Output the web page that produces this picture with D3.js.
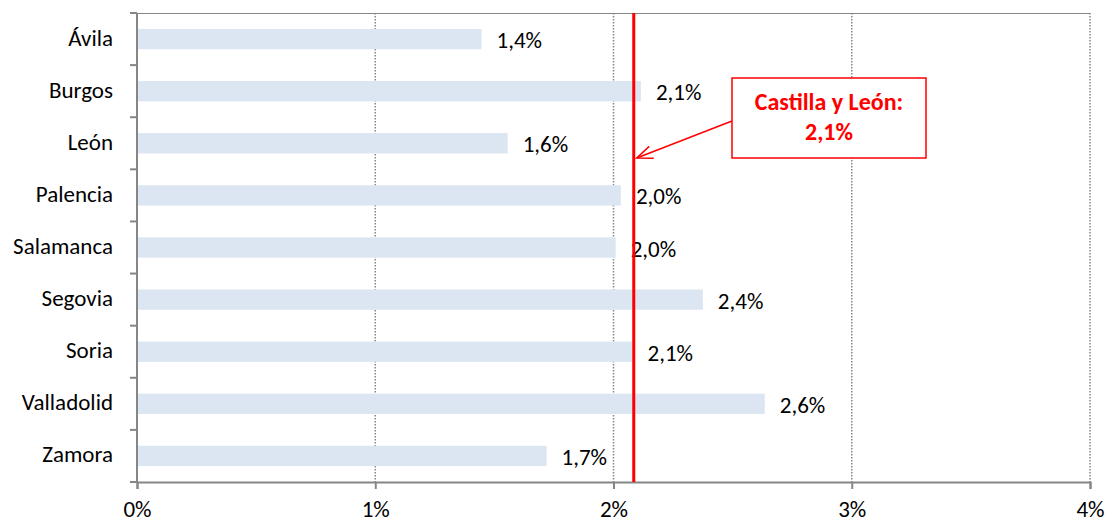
<!DOCTYPE html>
<html>
<head>
<meta charset="utf-8">
<script src="https://cdn.jsdelivr.net/npm/d3@7"></script>
<style>
body { margin: 0; background: #fff; }
text { font-family: Carlito, Calibri, Lato, sans-serif; }
</style>
</head>
<body>
<script>
// data
let provincias = ['Ávila', 'Burgos', 'León', 'Palencia', 'Salamanca', 'Segovia', 'Soria', 'Valladolid', 'Zamora'];
let valores = [1.446, 2.115, 1.556, 2.031, 2.009, 2.375, 2.08, 2.635, 1.719];
let etiquetas = ['1,4%', '2,1%', '1,6%', '2,0%', '2,0%', '2,4%', '2,1%', '2,6%', '1,7%'];
let xTicks = [0, 1, 2, 3, 4];
let mediaCyL = 2.085;
let calloutLines = ['Castilla y León:', '2,1%'];

const W = 1108, H = 523;
const margin = {top: 13, right: 18, bottom: 41, left: 137};
const AXIS = '#868686';
const BAR = '#dce6f2';
const RED = '#ff0000';
const FS = 23;

let svg = d3.select('body').append('svg')
    .attr('width', W)
    .attr('height', H);

let x = d3.scaleLinear().domain([0, 4]).range([margin.left, W - margin.right]);
let y = d3.scaleBand().domain(provincias).range([margin.top, H - margin.bottom]).paddingInner(0.61).paddingOuter(0.305);
let yEdge = d3.scaleLinear().domain([0, provincias.length]).range([margin.top, H - margin.bottom]);
let mid = d => y(d) + y.bandwidth() / 2;

// gridlines (dotted)
svg.append('g').selectAll('line')
    .data(xTicks.slice(1))
    .join('line')
        .attr('x1', d => x(d)).attr('x2', d => x(d))
        .attr('y1', margin.top).attr('y2', H - margin.bottom)
        .attr('stroke', AXIS)
        .attr('stroke-width', 1.5)
        .attr('stroke-dasharray', '1.5,1.5');

// plot border top
svg.append('line')
    .attr('x1', x(0)).attr('x2', x(4))
    .attr('y1', margin.top + 0.5).attr('y2', margin.top + 0.5)
    .attr('stroke', AXIS).attr('stroke-width', 1);

// bars
svg.append('g').selectAll('rect')
    .data(provincias)
    .join('rect')
        .attr('x', x(0))
        .attr('y', d => y(d))
        .attr('width', (d, i) => x(valores[i]) - x(0))
        .attr('height', y.bandwidth())
        .attr('fill', BAR);

// value labels
svg.append('g').selectAll('text')
    .data(provincias)
    .join('text')
        .attr('x', (d, i) => x(valores[i]) + 15)
        .attr('y', d => mid(d) + 9)
        .attr('font-size', FS)
        .attr('fill', '#000')
        .text((d, i) => etiquetas[i]);

// x axis
let xAxis = svg.append('g')
    .attr('transform', `translate(0,${H - margin.bottom})`)
    .call(d3.axisBottom(x).tickValues(xTicks).tickSize(7).tickFormat(d => d + '%'));
xAxis.select('.domain').attr('stroke', AXIS).attr('stroke-width', 2);
xAxis.selectAll('.tick line').attr('stroke', AXIS).attr('stroke-width', 2);
xAxis.selectAll('.tick text')
    .attr('y', 35).attr('dy', null)
    .attr('font-size', FS).attr('fill', '#000')
    .style('font-family', 'Carlito, Calibri, Lato, sans-serif');

// y axis: ticks at category boundaries
let yAxis = svg.append('g')
    .attr('transform', `translate(${margin.left},0)`);
yAxis.append('line')
    .attr('x1', 0).attr('x2', 0)
    .attr('y1', margin.top).attr('y2', H - margin.bottom)
    .attr('stroke', AXIS).attr('stroke-width', 2);
yAxis.selectAll('line.tk')
    .data(d3.range(provincias.length + 1))
    .join('line')
        .attr('class', 'tk')
        .attr('x1', -7).attr('x2', 0)
        .attr('y1', d => yEdge(d)).attr('y2', d => yEdge(d))
        .attr('stroke', AXIS).attr('stroke-width', 2);
yAxis.selectAll('text')
    .data(provincias)
    .join('text')
        .attr('x', -24)
        .attr('y', d => mid(d) + 6.5)
        .attr('text-anchor', 'end')
        .attr('font-size', FS)
        .attr('fill', '#000')
        .text(d => d);

// Castilla y León reference line
svg.append('line')
    .attr('x1', x(mediaCyL)).attr('x2', x(mediaCyL))
    .attr('y1', margin.top).attr('y2', H - margin.bottom)
    .attr('stroke', RED).attr('stroke-width', 3);

// callout
let bx = 732, by = 78, bw = 194, bh = 80;
svg.append('rect')
    .attr('x', bx).attr('y', by)
    .attr('width', bw).attr('height', bh)
    .attr('fill', '#fff')
    .attr('stroke', RED).attr('stroke-width', 1.5);
svg.append('g').selectAll('text')
    .data(calloutLines)
    .join('text')
        .attr('x', bx + bw / 2)
        .attr('y', (d, i) => by + 32 + i * 30)
        .attr('text-anchor', 'middle')
        .attr('font-size', 24)
        .attr('font-weight', 'bold')
        .attr('fill', RED)
        .text(d => d);

// arrow
let ax1 = bx, ay1 = 121, ax2 = x(mediaCyL) + 3, ay2 = 158;
svg.append('line')
    .attr('x1', ax1).attr('y1', ay1).attr('x2', ax2).attr('y2', ay2)
    .attr('stroke', RED).attr('stroke-width', 1.5);
let ang = Math.atan2(ay1 - ay2, ax1 - ax2);
let hl = 17, spread = 0.38;
svg.append('path')
    .attr('d', `M${ax2 + hl * Math.cos(ang + spread)},${ay2 + hl * Math.sin(ang + spread)} L${ax2},${ay2} L${ax2 + hl * Math.cos(ang - spread)},${ay2 + hl * Math.sin(ang - spread)}`)
    .attr('fill', 'none')
    .attr('stroke', RED).attr('stroke-width', 1.5);
</script>
</body>
</html>
